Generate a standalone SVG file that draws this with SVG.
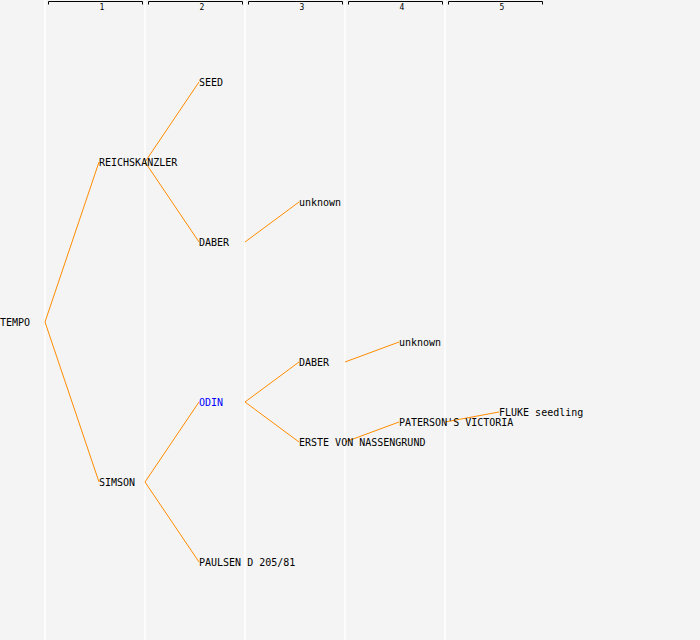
<svg xmlns="http://www.w3.org/2000/svg" width="700" height="640" viewBox="0 0 700 640">
<style>
.col{stroke:#ffffff;stroke-width:1.5}
.hdr{fill:none;stroke:#000;stroke-width:1}
.hn{font-family:"DejaVu Sans Mono",monospace;font-size:8px;fill:#000;text-anchor:middle}
.lbl{font-family:"DejaVu Sans Mono",monospace;font-size:10px;fill:#000}
.edge{fill:none;stroke:#ff8c00;stroke-width:1}
</style>
<rect width="700" height="640" fill="#f4f4f4"/>
<g id="columns">
<line class="col" x1="45" y1="0" x2="45" y2="640"/>
<line class="col" x1="145" y1="0" x2="145" y2="640"/>
<line class="col" x1="245" y1="0" x2="245" y2="640"/>
<line class="col" x1="345" y1="0" x2="345" y2="640"/>
<line class="col" x1="445" y1="0" x2="445" y2="640"/>
<path class="hdr" d="M48.5,4.5V1.5H142.5V4.5M148.5,4.5V1.5H242.5V4.5M248.5,4.5V1.5H342.5V4.5M348.5,4.5V1.5H442.5V4.5M448.5,4.5V1.5H542.5V4.5"/>
<text class="hn" x="102" y="10">1</text>
<text class="hn" x="202" y="10">2</text>
<text class="hn" x="302" y="10">3</text>
<text class="hn" x="402" y="10">4</text>
<text class="hn" x="502" y="10">5</text>
</g>
<g id="connectors">
<path class="edge" d="M45,322L99,162M45,322L99,482"/>
<path class="edge" d="M145,162L199,82M145,162L199,242"/>
<path class="edge" d="M245,242L299,202"/>
<path class="edge" d="M145,482L199,402M145,482L199,562"/>
<path class="edge" d="M245,402L299,362M245,402L299,442"/>
<path class="edge" d="M345,362L399,342"/>
<path class="edge" d="M345,442L399,422"/>
<path class="edge" d="M445,422L499,412"/>
</g>
<g id="n-tempo"><text class="lbl" x="0" y="326">TEMPO</text></g>
<g id="n-reichskanzler"><text class="lbl" x="99" y="166">REICHSKANZLER</text></g>
<g id="n-simson"><text class="lbl" x="99" y="486">SIMSON</text></g>
<g id="n-seed"><text class="lbl" x="199" y="86">SEED</text></g>
<g id="n-daber1"><text class="lbl" x="199" y="246">DABER</text></g>
<g id="n-odin"><text class="lbl" x="199" y="406" fill="#0000ff" style="fill:#0000ff">ODIN</text></g>
<g id="n-paulsen"><text class="lbl" x="199" y="566">PAULSEN D 205/81</text></g>
<g id="n-unknown1"><text class="lbl" x="299" y="206">unknown</text></g>
<g id="n-daber2"><text class="lbl" x="299" y="366">DABER</text></g>
<g id="n-erste"><text class="lbl" x="299" y="446">ERSTE VON NASSENGRUND</text></g>
<g id="n-unknown2"><text class="lbl" x="399" y="346">unknown</text></g>
<g id="n-paterson"><text class="lbl" x="399" y="426">PATERSON'S VICTORIA</text></g>
<g id="n-fluke"><text class="lbl" x="499" y="416">FLUKE seedling</text></g>
</svg>
